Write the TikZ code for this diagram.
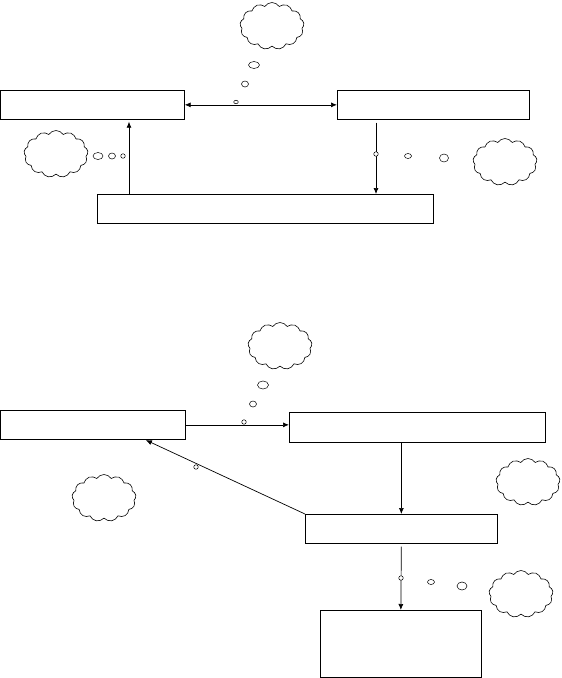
\documentclass[tikz,border=0pt]{standalone}
\usetikzlibrary{shapes.symbols,shapes.geometric,arrows.meta}

\begin{document}
\begin{tikzpicture}[>={Latex[length=6pt,width=5pt]}, x=1pt, y=-1pt, line width=0.7pt,
  box/.style={draw, rectangle, anchor=north west, inner sep=0},
  cloudy/.style={draw, cloud, cloud puffs=13, cloud puff arc=115, cloud ignores aspect,
    inner sep=0, minimum width=64, minimum height=47, line width=0.6pt},
  bubble/.style={draw, ellipse, inner sep=0, line width=0.5pt}]
  \useasboundingbox (0,0) rectangle (562,678);

  % Upper diagram: boxes
  \node[box, minimum width=184, minimum height=29] (A1) at (0,90) {};
  \node[box, minimum width=192, minimum height=29] (B1) at (337,90) {};
  \node[box, minimum width=336, minimum height=29] (C1) at (97,194) {};

  % Upper diagram: arrows
  \coordinate (up1) at (129,0);
  \coordinate (dn1) at (376,0);
  \draw[<->] (A1.east) -- (B1.west);
  \draw[->, shorten >=2pt] (C1.north -| up1) -- (A1.south -| up1);
  \draw[->, shorten <=3pt] (B1.south -| dn1) -- (C1.north -| dn1);

  % Upper diagram: thought clouds
  \node[cloudy] (tc1) at (272,26) {};
  \node[bubble, minimum width=11, minimum height=7] (tb1) at (254,65) {};
  \node[bubble, minimum width=7, minimum height=6] (tb2) at (245,84) {};
  \node[bubble, minimum width=4.5, minimum height=3.5] (tb3) at (236,102) {};

  \node[cloudy] (lc1) at (56,154) {};
  \node[bubble, minimum width=10, minimum height=7] (lb1) at (98,156) {};
  \node[bubble, minimum width=7, minimum height=6] (lb2) at (112,156) {};
  \node[bubble, minimum width=4.5, minimum height=4.5] (lb3) at (123,156) {};

  \node[cloudy] (rc1) at (505,162) {};
  \node[bubble, fill=white, minimum width=4.5, minimum height=4.5] (rb1) at (376,154) {};
  \node[bubble, minimum width=7, minimum height=5] (rb2) at (408,156) {};
  \node[bubble, minimum width=9, minimum height=8] (rb3) at (444,158) {};

  % Lower diagram: boxes
  \node[box, minimum width=185, minimum height=29] (A2) at (0,410) {};
  \node[box, minimum width=256, minimum height=30] (B2) at (289,412) {};
  \node[box, minimum width=192, minimum height=29] (C2) at (305,514) {};
  \node[box, minimum width=161, minimum height=67] (D2) at (320,610) {};

  % Lower diagram: arrows
  \coordinate (ret2) at (145,0);
  \draw[->] (A2.east) -- (A2.east -| B2.west);
  \draw[->] (B2.south -| C2.north) -- (C2.north);
  \draw[->, shorten >=1pt] (C2.north west) -- (A2.south -| ret2);
  \draw[->, shorten <=3pt] (C2.south) -- (D2.north);

  % Lower diagram: thought clouds
  \node[cloudy] (tc2) at (280,346) {};
  \node[bubble, minimum width=11, minimum height=8] (tb4) at (263,385) {};
  \node[bubble, minimum width=7, minimum height=6] (tb5) at (253,404) {};
  \node[bubble, minimum width=4.5, minimum height=4.5] (tb6) at (244,422) {};

  \node[cloudy] (lc2) at (104,498) {};
  \node[bubble, fill=white, minimum width=4.5, minimum height=4.5] (mb1) at (196,467) {};

  \node[cloudy] (rc2) at (528,482) {};

  \node[cloudy] (rc3) at (521,594) {};
  \node[bubble, fill=white, minimum width=4.5, minimum height=4.5] (rb4) at (401,578) {};
  \node[bubble, minimum width=7, minimum height=5] (rb5) at (431,582) {};
  \node[bubble, minimum width=10, minimum height=8] (rb6) at (462,586) {};
\end{tikzpicture}
\end{document}
